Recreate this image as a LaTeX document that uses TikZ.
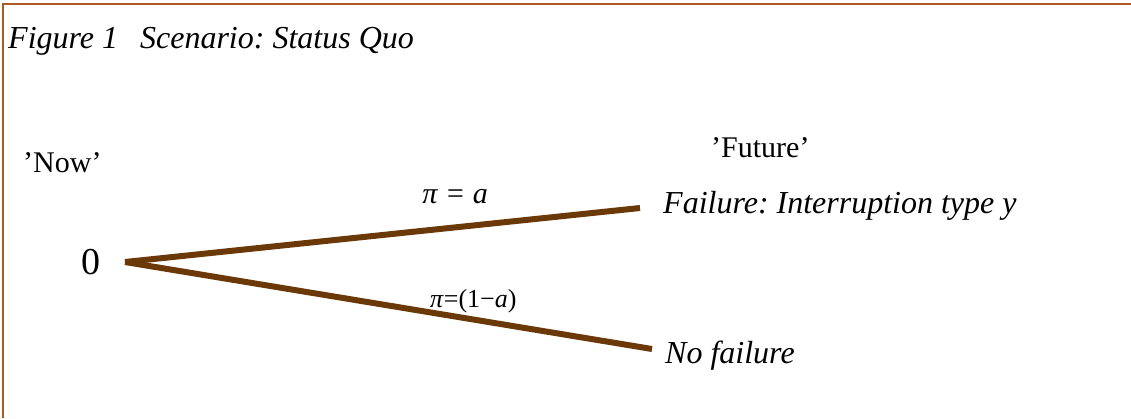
\documentclass[tikz,border=0pt]{standalone}
\usepackage{fontspec}
\setmainfont{Liberation Serif}
\usetikzlibrary{positioning}
\definecolor{framebrown}{RGB}{172,88,32}
\definecolor{branchbrown}{RGB}{107,56,8}
\tikzset{
  br/.style={draw=branchbrown,line width=6pt},
  tag/.style={inner sep=0pt,anchor=base west,font=\fontsize{30}{36}\selectfont},
  outcome/.style={inner sep=0pt,anchor=base west,font=\fontsize{32}{38}\selectfont\itshape},
  prob/.style={inner sep=0pt,anchor=base,font=\fontsize{30}{36}\selectfont\itshape},
}
\frenchspacing

\begin{document}
\begin{tikzpicture}[x=1pt,y=-1pt]
\useasboundingbox (0,0) rectangle (1131,418);
\draw[framebrown,line width=2.5pt] (3,418)--(3,4)--(1131,4);
\node[tag,font=\fontsize{32}{36}\selectfont\itshape] (title) at (8,48){Figure 1\hspace{22pt}Scenario: Status Quo};
\node[tag] (now) at (23,172){'Now'}; \node[tag] (future) at (711,157){'Future'};
\node[tag,font=\fontsize{38}{44}\selectfont] (zero) at (81,274){0};
\coordinate (root) at (125,262); \coordinate (failend) at (640,208); \coordinate (okend) at (652,349);
\node[outcome] (fail) at (663,213){Failure: Interruption type y};
\node[outcome] (ok) at (665,363){No failure};
\draw[br] (root)--node[prob,pos=0.641,yshift=24pt]{π = a}(failend);
\draw[br] (root)--node[prob,pos=0.661,yshift=12.5pt,font=\fontsize{26}{30}\selectfont]{\textit{π}=(1−\textit{a})}(okend);
\end{tikzpicture}
\end{document}
